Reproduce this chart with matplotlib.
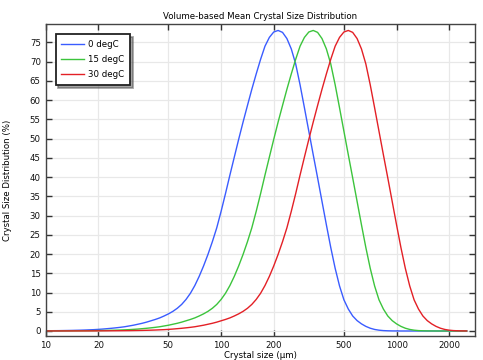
import matplotlib
matplotlib.use("Agg")
import matplotlib.pyplot as plt
from matplotlib.ticker import NullLocator

# ---- data ----
labels = ["0 degC", "15 degC", "30 degC"]
colors = ["#3a5cff", "#3cc43c", "#e32026"]

# crystal size sample positions (µm)
size_um = [10.0, 10.59, 11.22, 11.89, 12.59, 13.34, 14.13, 14.96, 15.85, 16.79,
           17.78, 18.84, 19.95, 21.13, 22.39, 23.71, 25.12, 26.61, 28.18, 29.85,
           31.62, 33.50, 35.48, 37.58, 39.81, 42.17, 44.67, 47.32, 50.12, 53.09,
           56.23, 59.57, 63.10, 66.83, 70.79, 74.99, 79.43, 84.14, 89.13, 94.41,
           100.0, 105.9, 112.2, 118.9, 125.9, 133.4, 141.3, 149.6, 158.5, 167.9,
           177.8, 188.4, 199.5, 211.3, 223.9, 237.1, 251.2, 266.1, 281.8, 298.5,
           316.2, 335.0, 354.8, 375.8, 398.1, 421.7, 446.7, 473.2, 501.2, 530.9,
           562.3, 595.7, 631.0, 668.3, 707.9, 749.9, 794.3, 841.4, 891.3, 944.1,
           1000, 1059, 1122, 1189, 1259, 1334, 1413, 1496, 1585, 1679,
           1778, 1884, 1995, 2113, 2239, 2371, 2512]

csd_0 = [0.06, 0.07, 0.08, 0.09, 0.11, 0.13, 0.15, 0.18, 0.21, 0.25,
         0.3, 0.35, 0.42, 0.5, 0.6, 0.7, 0.82, 0.95, 1.1, 1.3,
         1.5, 1.75, 2.0, 2.3, 2.65, 3.0, 3.4, 3.9, 4.45, 5.1,
         5.9, 6.9, 8.2, 9.8, 11.8, 14.2, 16.9, 19.9, 23.2, 26.8,
         31.1, 35.7, 40.5, 45.2, 49.8, 54.3, 58.6, 62.8, 66.8, 70.6,
         74.0, 76.3, 77.7, 78.1, 77.6, 76.0, 73.3, 69.4, 64.0, 58.0,
         51.9, 45.8, 39.8, 33.7, 27.6, 21.7, 16.3, 11.7, 8.1, 5.7,
         3.9, 2.7, 1.85, 1.2, 0.72, 0.4, 0.21, 0.1, 0.05, 0.02,
         0.01, 0, 0, 0, 0, 0, 0, 0, 0, 0,
         0, 0, 0, 0, 0, 0, 0]

csd_15 = [0.02, 0.022, 0.025, 0.03, 0.035, 0.04, 0.045, 0.05, 0.06, 0.07,
          0.08, 0.09, 0.11, 0.13, 0.15, 0.18, 0.21, 0.25, 0.3, 0.35,
          0.42, 0.5, 0.6, 0.7, 0.82, 0.95, 1.1, 1.3, 1.5, 1.75,
          2.0, 2.3, 2.65, 3.0, 3.4, 3.9, 4.45, 5.1, 5.9, 6.9,
          8.2, 9.8, 11.8, 14.2, 16.9, 19.9, 23.2, 26.8, 31.1, 35.7,
          40.5, 45.2, 49.8, 54.3, 58.6, 62.8, 66.8, 70.6, 74.0, 76.3,
          77.7, 78.1, 77.6, 76.0, 73.3, 69.4, 64.0, 58.0, 51.9, 45.8,
          39.8, 33.7, 27.6, 21.7, 16.3, 11.7, 8.1, 5.7, 3.9, 2.7,
          1.85, 1.2, 0.72, 0.4, 0.21, 0.1, 0.05, 0.02, 0.01, 0,
          0, 0, 0, 0, 0, 0, 0]

csd_30 = [0.007, 0.008, 0.009, 0.01, 0.012, 0.014, 0.016, 0.018, 0.02, 0.022,
          0.025, 0.03, 0.035, 0.04, 0.045, 0.05, 0.06, 0.07, 0.08, 0.09,
          0.11, 0.13, 0.15, 0.18, 0.21, 0.25, 0.3, 0.35, 0.42, 0.5,
          0.6, 0.7, 0.82, 0.95, 1.1, 1.3, 1.5, 1.75, 2.0, 2.3,
          2.65, 3.0, 3.4, 3.9, 4.45, 5.1, 5.9, 6.9, 8.2, 9.8,
          11.8, 14.2, 16.9, 19.9, 23.2, 26.8, 31.1, 35.7, 40.5, 45.2,
          49.8, 54.3, 58.6, 62.8, 66.8, 70.6, 74.0, 76.3, 77.7, 78.1,
          77.6, 76.0, 73.3, 69.4, 64.0, 58.0, 51.9, 45.8, 39.8, 33.7,
          27.6, 21.7, 16.3, 11.7, 8.1, 5.7, 3.9, 2.7, 1.85, 1.2,
          0.72, 0.4, 0.21, 0.1, 0.05, 0.02, 0.01]

xticks = [10, 20, 50, 100, 200, 500, 1000, 2000]
yticks = list(range(0, 80, 5))

series = [csd_0, csd_15, csd_30]

# ---- figure ----
fig = plt.figure(figsize=(4.83, 3.6), dpi=100)
ax = fig.add_axes([0.0946, 0.0667, 0.8888, 0.8658])

for ys, lab, c in zip(series, labels, colors):
    ax.plot(size_um, ys, color=c, lw=1.0, label=lab)

ax.set_xscale("log")
ax.set_xlim(10, 2800)
ax.set_ylim(-1.3, 79.7)
ax.set_xticks(xticks)
ax.set_xticklabels([str(t) for t in xticks])
ax.xaxis.set_minor_locator(NullLocator())
ax.set_yticks(yticks)

ax.grid(True, color="#e8e8e8", lw=0.9)
ax.set_axisbelow(True)
ax.tick_params(axis="both", which="major", direction="in", length=4, width=1.0,
               top=True, right=True, labelsize=6.2, colors="#333333",
               labelcolor="#111111", pad=3.5)
for s in ax.spines.values():
    s.set_color("#444444")
    s.set_linewidth(1.0)

ax.set_title("Volume-based Mean Crystal Size Distribution", fontsize=6.2, pad=4)
ax.set_xlabel("Crystal size (µm)", fontsize=6.2, labelpad=1)
ax.set_ylabel("Crystal Size Distribution (%)", fontsize=6.2, labelpad=13)

leg = ax.legend(loc="upper left", bbox_to_anchor=(0.023, 0.969), fontsize=6.2,
                frameon=True, fancybox=False, shadow=True, handlelength=2.6,
                borderpad=0.65, labelspacing=0.75, handletextpad=0.55,
                borderaxespad=0)
leg.get_frame().set_edgecolor("#222222")
leg.get_frame().set_linewidth(1.3)

fig.savefig("out.png", dpi=100)
